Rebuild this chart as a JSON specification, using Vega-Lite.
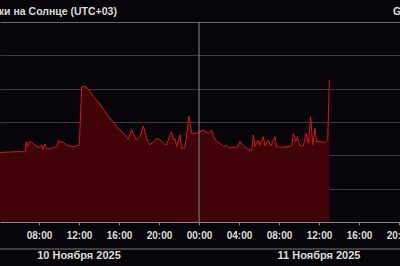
{
  "$schema": "https://vega.github.io/schema/vega-lite/v6.json",
  "width": 400,
  "height": 200,
  "autosize": {"type": "none"},
  "padding": {"left": 0, "top": 22, "right": 0, "bottom": 44},
  "background": "#070509",
  "config": {"view": {"stroke": null}, "font": "Liberation Sans"},
  "datasets": {
    "flux": [
      {"t": "2025-11-10T04:06:00Z", "v": 1.22e-7},
      {"t": "2025-11-10T05:06:00Z", "v": 1.26e-7},
      {"t": "2025-11-10T06:06:00Z", "v": 1.30e-7},
      {"t": "2025-11-10T06:36:00Z", "v": 1.26e-7},
      {"t": "2025-11-10T06:42:00Z", "v": 2.56e-7},
      {"t": "2025-11-10T06:50:00Z", "v": 1.82e-7},
      {"t": "2025-11-10T07:06:00Z", "v": 2.69e-7},
      {"t": "2025-11-10T07:26:00Z", "v": 2.19e-7},
      {"t": "2025-11-10T07:46:00Z", "v": 1.91e-7},
      {"t": "2025-11-10T08:06:00Z", "v": 1.69e-7},
      {"t": "2025-11-10T08:16:00Z", "v": 2.04e-7},
      {"t": "2025-11-10T08:22:00Z", "v": 1.52e-7},
      {"t": "2025-11-10T08:36:00Z", "v": 2.19e-7},
      {"t": "2025-11-10T08:46:00Z", "v": 1.58e-7},
      {"t": "2025-11-10T09:06:00Z", "v": 1.58e-7},
      {"t": "2025-11-10T09:26:00Z", "v": 1.69e-7},
      {"t": "2025-11-10T09:46:00Z", "v": 1.82e-7},
      {"t": "2025-11-10T09:56:00Z", "v": 2.75e-7},
      {"t": "2025-11-10T10:06:00Z", "v": 2.56e-7},
      {"t": "2025-11-10T10:26:00Z", "v": 2.39e-7},
      {"t": "2025-11-10T10:46:00Z", "v": 2.04e-7},
      {"t": "2025-11-10T11:06:00Z", "v": 1.91e-7},
      {"t": "2025-11-10T11:26:00Z", "v": 1.82e-7},
      {"t": "2025-11-10T11:46:00Z", "v": 1.91e-7},
      {"t": "2025-11-10T12:02:00Z", "v": 2.04e-7},
      {"t": "2025-11-10T12:16:00Z", "v": 1.15e-5},
      {"t": "2025-11-10T12:36:00Z", "v": 1.15e-5},
      {"t": "2025-11-10T12:56:00Z", "v": 9.8e-6},
      {"t": "2025-11-10T13:26:00Z", "v": 5.74e-6},
      {"t": "2025-11-10T13:56:00Z", "v": 4.06e-6},
      {"t": "2025-11-10T14:26:00Z", "v": 2.40e-6},
      {"t": "2025-11-10T15:06:00Z", "v": 1.29e-6},
      {"t": "2025-11-10T15:46:00Z", "v": 7.23e-7},
      {"t": "2025-11-10T16:06:00Z", "v": 5.75e-7},
      {"t": "2025-11-10T16:26:00Z", "v": 4.58e-7},
      {"t": "2025-11-10T16:56:00Z", "v": 3.03e-7},
      {"t": "2025-11-10T17:16:00Z", "v": 6.04e-7},
      {"t": "2025-11-10T17:26:00Z", "v": 4.37e-7},
      {"t": "2025-11-10T17:46:00Z", "v": 2.88e-7},
      {"t": "2025-11-10T18:06:00Z", "v": 3.62e-7},
      {"t": "2025-11-10T18:26:00Z", "v": 7.59e-7},
      {"t": "2025-11-10T18:46:00Z", "v": 3.24e-7},
      {"t": "2025-11-10T19:06:00Z", "v": 2.04e-7},
      {"t": "2025-11-10T19:26:00Z", "v": 2.56e-7},
      {"t": "2025-11-10T19:46:00Z", "v": 3.16e-7},
      {"t": "2025-11-10T20:06:00Z", "v": 2.88e-7},
      {"t": "2025-11-10T20:26:00Z", "v": 2.34e-7},
      {"t": "2025-11-10T20:46:00Z", "v": 2.04e-7},
      {"t": "2025-11-10T21:06:00Z", "v": 4.07e-7},
      {"t": "2025-11-10T21:16:00Z", "v": 5.12e-7},
      {"t": "2025-11-10T21:26:00Z", "v": 2.88e-7},
      {"t": "2025-11-10T21:36:00Z", "v": 3.24e-7},
      {"t": "2025-11-10T21:46:00Z", "v": 1.82e-7},
      {"t": "2025-11-10T22:06:00Z", "v": 4.07e-7},
      {"t": "2025-11-10T22:16:00Z", "v": 1.63e-7},
      {"t": "2025-11-10T22:36:00Z", "v": 1.69e-7},
      {"t": "2025-11-10T23:00:00Z", "v": 1.51e-6},
      {"t": "2025-11-10T23:16:00Z", "v": 4.58e-7},
      {"t": "2025-11-10T23:46:00Z", "v": 4.58e-7},
      {"t": "2025-11-11T00:06:00Z", "v": 5.12e-7},
      {"t": "2025-11-11T00:26:00Z", "v": 5.75e-7},
      {"t": "2025-11-11T00:56:00Z", "v": 4.58e-7},
      {"t": "2025-11-11T01:16:00Z", "v": 5.75e-7},
      {"t": "2025-11-11T01:26:00Z", "v": 3.62e-7},
      {"t": "2025-11-11T01:46:00Z", "v": 2.60e-7},
      {"t": "2025-11-11T02:06:00Z", "v": 2.30e-7},
      {"t": "2025-11-11T02:26:00Z", "v": 1.82e-7},
      {"t": "2025-11-11T02:46:00Z", "v": 1.97e-7},
      {"t": "2025-11-11T03:06:00Z", "v": 1.63e-7},
      {"t": "2025-11-11T03:26:00Z", "v": 1.78e-7},
      {"t": "2025-11-11T03:46:00Z", "v": 1.63e-7},
      {"t": "2025-11-11T04:06:00Z", "v": 2.60e-7},
      {"t": "2025-11-11T04:26:00Z", "v": 1.91e-7},
      {"t": "2025-11-11T04:46:00Z", "v": 1.63e-7},
      {"t": "2025-11-11T05:06:00Z", "v": 1.45e-7},
      {"t": "2025-11-11T05:16:00Z", "v": 1.38e-7},
      {"t": "2025-11-11T05:26:00Z", "v": 4.07e-7},
      {"t": "2025-11-11T05:36:00Z", "v": 1.82e-7},
      {"t": "2025-11-11T05:56:00Z", "v": 2.88e-7},
      {"t": "2025-11-11T06:06:00Z", "v": 2.04e-7},
      {"t": "2025-11-11T06:26:00Z", "v": 3.62e-7},
      {"t": "2025-11-11T06:36:00Z", "v": 1.91e-7},
      {"t": "2025-11-11T06:56:00Z", "v": 2.88e-7},
      {"t": "2025-11-11T07:10:00Z", "v": 1.91e-7},
      {"t": "2025-11-11T07:36:00Z", "v": 3.62e-7},
      {"t": "2025-11-11T07:46:00Z", "v": 1.82e-7},
      {"t": "2025-11-11T08:16:00Z", "v": 1.74e-7},
      {"t": "2025-11-11T08:46:00Z", "v": 1.82e-7},
      {"t": "2025-11-11T09:16:00Z", "v": 1.91e-7},
      {"t": "2025-11-11T09:26:00Z", "v": 4.58e-7},
      {"t": "2025-11-11T09:40:00Z", "v": 2.60e-7},
      {"t": "2025-11-11T09:50:00Z", "v": 3.62e-7},
      {"t": "2025-11-11T10:06:00Z", "v": 1.91e-7},
      {"t": "2025-11-11T10:26:00Z", "v": 1.91e-7},
      {"t": "2025-11-11T10:42:00Z", "v": 4.58e-7},
      {"t": "2025-11-11T10:56:00Z", "v": 2.30e-7},
      {"t": "2025-11-11T11:10:00Z", "v": 1.44e-6},
      {"t": "2025-11-11T11:22:00Z", "v": 2.04e-7},
      {"t": "2025-11-11T11:36:00Z", "v": 6.47e-7},
      {"t": "2025-11-11T11:46:00Z", "v": 2.60e-7},
      {"t": "2025-11-11T12:06:00Z", "v": 2.60e-7},
      {"t": "2025-11-11T12:36:00Z", "v": 2.39e-7},
      {"t": "2025-11-11T12:52:00Z", "v": 2.88e-7},
      {"t": "2025-11-11T13:02:00Z", "v": 1.82e-5}
    ],
    "midnight": [{"t": "2025-11-11T00:00:00Z"}],
    "dates": [
      {"t": "2025-11-10T12:00:00Z", "v": 9.5e-11, "txt": "10 Ноября 2025"},
      {"t": "2025-11-11T12:00:00Z", "v": 9.5e-11, "txt": "11 Ноября 2025"}
    ],
    "separatorline": [
      {"t": "2025-11-10T00:00:00Z", "level": 1.55e-10},
      {"t": "2025-11-12T00:00:00Z", "level": 1.55e-10}
    ],
    "heads": [
      {"t": "2025-11-10T00:14:00Z", "v": 2.05e-3, "txt": "Вспышки на Солнце (UTC+03)"},
      {"t": "2025-11-11T19:24:00Z", "v": 2.05e-3, "txt": "GOES"}
    ]
  },
  "layer": [
    {
      "data": {"name": "flux"},
      "mark": {"type": "area", "color": "#3f0308", "opacity": 1, "line": {"color": "#d0161f", "strokeWidth": 1}},
      "encoding": {
        "x": {"field": "t", "type": "temporal",
          "scale": {"type": "utc", "domain": [1762747560000, 1762891560000]},
          "axis": {"orient": "bottom", "title": null,
            "values": [1762761600000, 1762776000000, 1762790400000, 1762804800000, 1762819200000, 1762833600000, 1762848000000, 1762862400000, 1762876800000, 1762891200000],
            "format": "%H:%M",
            "labelFont": "Liberation Sans", "labelFontWeight": "bold", "labelFontSize": 10, "labelColor": "#dddddd",
            "labelPadding": 5, "tickSize": 3, "tickColor": "#888888", "domainColor": "#888888",
            "labelOverlap": false, "labelFlush": false, "labelBound": false, "grid": false}},
        "y": {"field": "v", "type": "quantitative",
          "scale": {"type": "log", "domain": [1e-9, 1e-3], "nice": false},
          "axis": {"orient": "left", "title": null, "labels": false, "ticks": false, "domain": false,
            "values": [1e-8, 1e-7, 1e-6, 1e-5, 1e-4, 1e-3], "grid": true,
            "gridColor": {"condition": {"test": "datum.value > 5e-4", "value": "#6a6a6a"}, "value": "#3c3c3c"}}},
        "y2": {"datum": 1e-9}
      }
    },
    {
      "data": {"name": "midnight"},
      "mark": {"type": "rule", "color": "#8a8a8a", "strokeWidth": 1},
      "encoding": {
        "x": {"field": "t", "type": "temporal"}
      }
    },
    {
      "data": {"name": "separatorline"},
      "mark": {"type": "line", "color": "#777777", "strokeWidth": 1.2},
      "encoding": {
        "x": {"field": "t", "type": "temporal"},
        "y": {"field": "level", "type": "quantitative"}
      }
    },
    {
      "data": {"name": "dates"},
      "mark": {"type": "text", "align": "center", "baseline": "middle", "font": "Liberation Sans", "fontWeight": "bold", "fontSize": 11, "color": "#dddddd"},
      "encoding": {
        "x": {"field": "t", "type": "temporal"},
        "y": {"field": "v", "type": "quantitative"},
        "text": {"field": "txt"}
      }
    },
    {
      "data": {"name": "heads"},
      "mark": {"type": "text", "align": "left", "baseline": "middle", "font": "Liberation Sans", "fontWeight": "bold", "fontSize": 10.5, "color": "#dddddd"},
      "encoding": {
        "x": {"field": "t", "type": "temporal"},
        "y": {"field": "v", "type": "quantitative"},
        "text": {"field": "txt"}
      }
    }
  ]
}
